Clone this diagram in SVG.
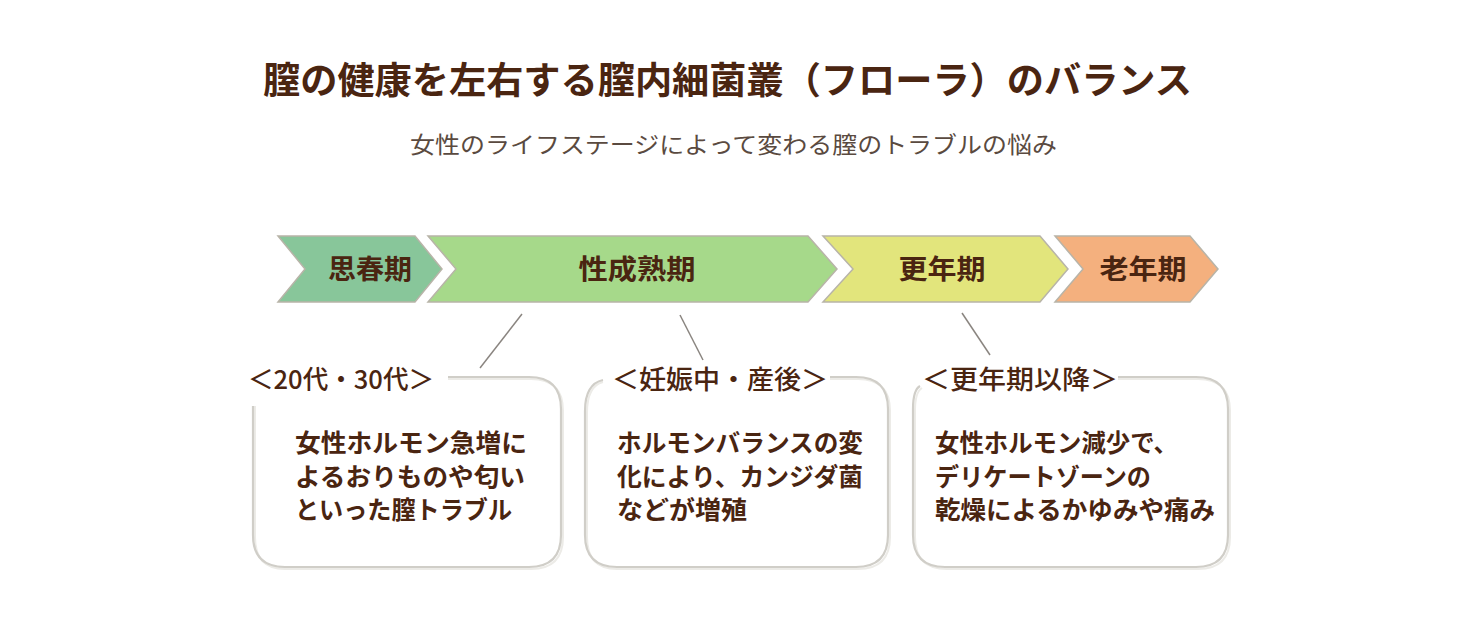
<svg xmlns="http://www.w3.org/2000/svg" width="1480" height="638" viewBox="0 0 1480 638">
<style>
text{font-family:"Noto Sans CJK JP","Noto Sans CJK SC",sans-serif;fill:#4a2511}
.title{font-size:37px;font-weight:700}
.sub{font-size:23px;font-weight:400;fill:#5a4a40}
.stage{font-size:27px;font-weight:700;text-anchor:middle}
.lbl{font-size:26px;font-weight:500}
.body{font-size:25px;font-weight:700}
.arrow{stroke:#b8b4a8;stroke-width:1.5}
.box{fill:none;stroke:#d0cec8;stroke-width:2.2}
.boxsh{fill:none;stroke:#ecebe7;stroke-width:2}
.conn{stroke:#8a8580;stroke-width:1.5;fill:none}
</style>
<rect width="1480" height="638" fill="#ffffff"/>
<text class="title" x="263" y="94" textLength="929" lengthAdjust="spacingAndGlyphs">膣の健康を左右する膣内細菌叢（フローラ）のバランス</text>
<text class="sub" x="410" y="153" textLength="647" lengthAdjust="spacingAndGlyphs">女性のライフステージによって変わる膣のトラブルの悩み</text>
<g id="stage1">
<polygon class="arrow" fill="#88c69a" points="278,236 415,236 442,269 415,302 278,302 305,269"/>
<text class="stage" x="370" y="279" textLength="84" lengthAdjust="spacingAndGlyphs">思春期</text>
</g>
<g id="stage2">
<polygon class="arrow" fill="#a6d98a" points="428,236 808,236 837,269 808,302 428,302 456,269"/>
<text class="stage" x="637" y="279" textLength="117" lengthAdjust="spacingAndGlyphs">性成熟期</text>
</g>
<g id="stage3">
<polygon class="arrow" fill="#e2e57c" points="823,236 1040,236 1068,269 1040,302 823,302 853,269"/>
<text class="stage" x="942" y="279" textLength="87" lengthAdjust="spacingAndGlyphs">更年期</text>
</g>
<g id="stage4">
<polygon class="arrow" fill="#f4b07e" points="1055,236 1190,236 1218,269 1190,302 1055,302 1083,269"/>
<text class="stage" x="1143" y="279" textLength="87" lengthAdjust="spacingAndGlyphs">老年期</text>
</g>
<g id="connectors">
<line class="conn" x1="522" y1="314" x2="480" y2="368"/>
<line class="conn" x1="680" y1="315" x2="703" y2="360"/>
<line class="conn" x1="962" y1="313" x2="990" y2="355"/>
</g>
<g id="box1">
<path class="boxsh" d="M448,379 H531 Q563,379 563,411 V537 Q563,569 531,569 H285 Q255,569 255,537 V406"/>
<path class="box" d="M448,377 H529 Q561,377 561,409 V535 Q561,567 529,567 H285 Q253,567 253,535 V406"/>
<text class="lbl" x="248" y="389" textLength="186" lengthAdjust="spacingAndGlyphs">＜20代・30代＞</text>
<text class="body" x="295" y="452" textLength="232" lengthAdjust="spacingAndGlyphs">女性ホルモン急増に</text>
<text class="body" x="295" y="486" textLength="230" lengthAdjust="spacingAndGlyphs">よるおりものや匂い</text>
<text class="body" x="295" y="519" textLength="217" lengthAdjust="spacingAndGlyphs">といった膣トラブル</text>
</g>
<g id="box2">
<path class="boxsh" d="M830,379 H858 Q890,379 890,411 V537 Q890,569 858,569 H617 Q587,569 587,537 V413 Q587,386 603,382"/>
<path class="box" d="M830,377 H856 Q888,377 888,409 V535 Q888,567 856,567 H617 Q585,567 585,535 V411 Q585,384 603,380"/>
<text class="lbl" x="612" y="389" textLength="216" lengthAdjust="spacingAndGlyphs">＜妊娠中・産後＞</text>
<text class="body" x="617" y="452" textLength="246" lengthAdjust="spacingAndGlyphs">ホルモンバランスの変</text>
<text class="body" x="617" y="486" textLength="246" lengthAdjust="spacingAndGlyphs">化により、カンジダ菌</text>
<text class="body" x="617" y="519" textLength="130" lengthAdjust="spacingAndGlyphs">などが増殖</text>
</g>
<g id="box3">
<path class="boxsh" d="M1118,379 H1198 Q1230,379 1230,411 V537 Q1230,569 1198,569 H947 Q915,569 915,537 V411 Q915,392 922,388"/>
<path class="box" d="M1118,377 H1196 Q1228,377 1228,409 V535 Q1228,567 1196,567 H945 Q913,567 913,535 V409 Q913,390 920,386"/>
<text class="lbl" x="922" y="389" textLength="196" lengthAdjust="spacingAndGlyphs">＜更年期以降＞</text>
<text class="body" x="935" y="452" textLength="243" lengthAdjust="spacingAndGlyphs">女性ホルモン減少で、</text>
<text class="body" x="935" y="486" textLength="216" lengthAdjust="spacingAndGlyphs">デリケートゾーンの</text>
<text class="body" x="935" y="519" textLength="280" lengthAdjust="spacingAndGlyphs">乾燥によるかゆみや痛み</text>
</g>
</svg>
